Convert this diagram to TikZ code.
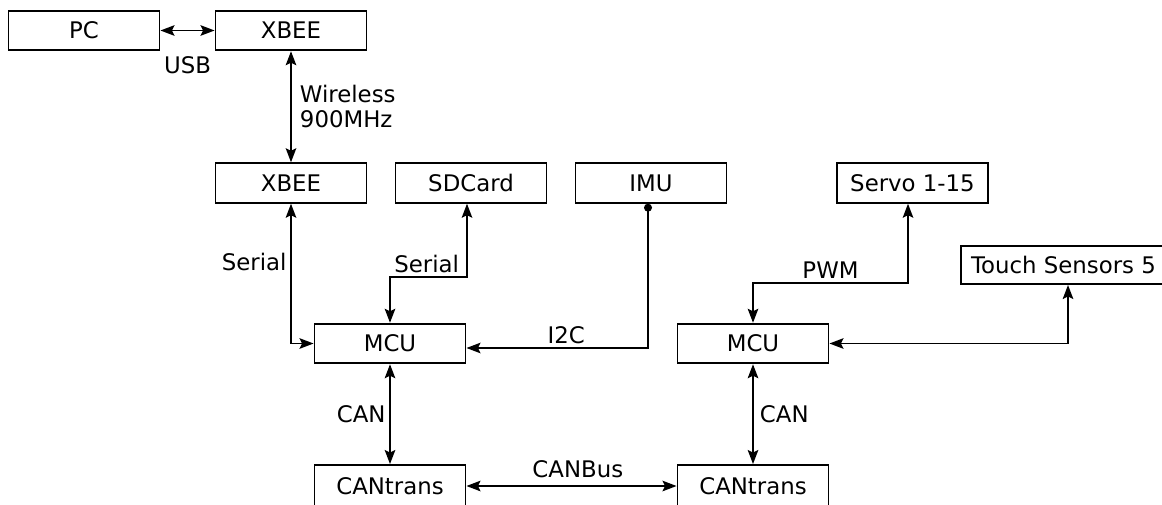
\documentclass[tikz,border=0pt]{standalone}
\usepackage{fontspec}
\setmainfont{DejaVu Sans}
\usetikzlibrary{arrows.meta}

\begin{document}
\begin{tikzpicture}[x=0.02cm, y=-0.02cm,
    every node/.style={font=\fontsize{13pt}{14.2pt}\selectfont},
    box/.style={draw, line width=1.1pt, minimum width=3.02cm, minimum height=0.79cm, inner sep=0pt},
    lbl/.style={inner sep=2pt},
    >={Stealth[length=8pt,width=6pt,inset=1.5pt]},
    link/.style={line width=1.1pt, <->}]
    \clip (0,0) rectangle (1162,504);

    \node[box] (pc) at (84,30.5) {PC};
    \node[box] (xbee1) at (291,30.5) {XBEE};
    \node[box] (xbee2) at (291,183) {XBEE};
    \node[box] (sdcard) at (471,183) {SDCard};
    \node[box] (imu) at (651,183) {IMU};
    \node[box] (servo) at (912.5,183) {Servo 1-15};
    \node[box, minimum width=4.3cm, minimum height=0.76cm] (touch) at (1068,265) {\hspace*{-0.18cm}Touch Sensors 5};
    \node[box] (mcu1) at (390,343.5) {MCU};
    \node[box] (mcu2) at (753,343.5) {MCU};
    \node[box, minimum height=0.84cm] (cantr1) at (390,486) {CANtrans};
    \node[box, minimum height=0.84cm] (cantr2) at (753,486) {CANtrans};

    % straight links
    \path[link]
    (pc) edge node [midway,below=0.43cm,lbl] {USB} (xbee1)
    (xbee1) edge node [midway,right=0.09cm,lbl,align=left] {Wireless\\900MHz} (xbee2)
    (mcu1) edge node [midway,left,lbl] {CAN} (cantr1)
    (mcu2) edge node [midway,right=0.05cm,lbl] {CAN} (cantr2)
    (cantr1) edge node [pos=0.53,above=2pt,lbl] {CANBus} (cantr2);

    % links with corners
    \draw[link] (xbee2.south) |- node[pos=0.21,left,lbl] {Serial} (mcu1.west);
    \draw[link] ([xshift=-0.08cm]sdcard.south) -- ++(0,73.5) node[anchor=south east,lbl,xshift=-2pt] {Serial} -| (mcu1.north);
    \draw[link, {Circle[length=4.5pt]}->] ([xshift=-0.06cm]imu.south) |- node[pos=0.725,above,lbl] {I2C} ([yshift=-0.09cm]mcu1.east);
    \draw[link] (mcu2.north) -- ++(0,-40) -| node[pos=0.25,above,lbl] {PWM} ([xshift=-0.09cm]servo.south);
    \draw[link] (mcu2.east) -| (touch.south);
\end{tikzpicture}
\end{document}
